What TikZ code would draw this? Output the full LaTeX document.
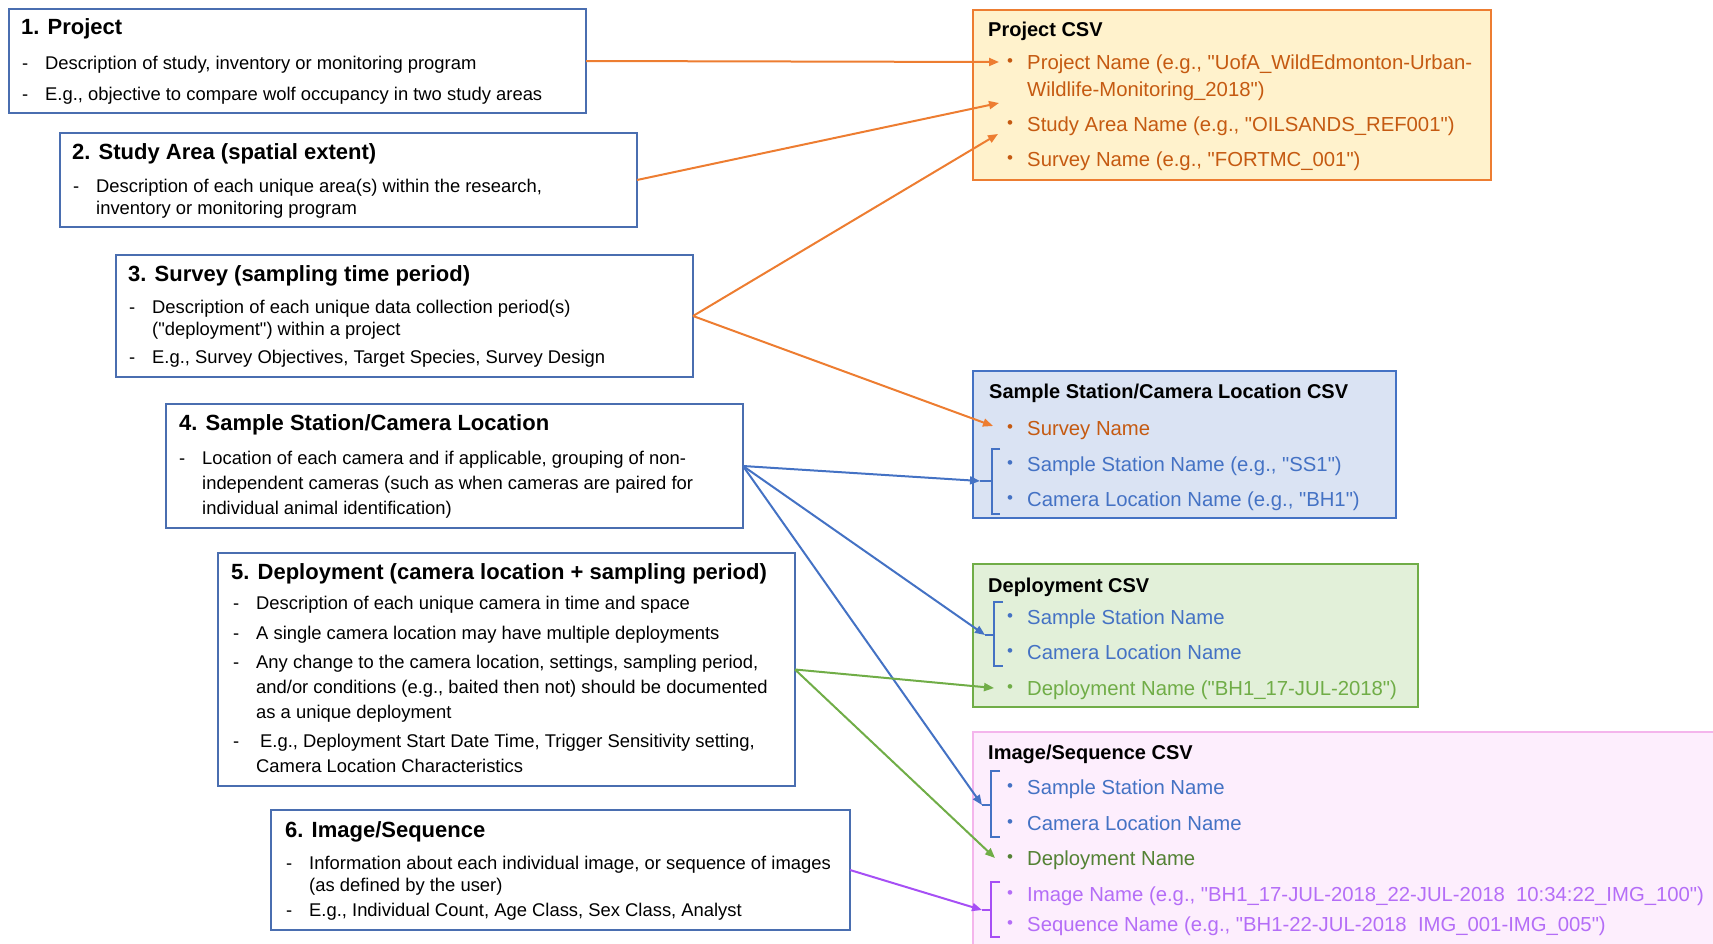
\documentclass[tikz,border=0pt]{standalone}
\usepackage{fontspec}
\setmainfont{Liberation Sans}[Ligatures=TeXOff]
\usetikzlibrary{arrows.meta}
\definecolor{lboxc}{HTML}{4A6EB0}
\definecolor{orangeL}{HTML}{ED7D31}
\definecolor{orangeT}{HTML}{C55A11}
\definecolor{orangeF}{HTML}{FFF2CC}
\definecolor{blueL}{HTML}{4472C4}
\definecolor{blueF}{HTML}{DAE3F3}
\definecolor{greenL}{HTML}{70AD47}
\definecolor{greenF}{HTML}{E2F0D9}
\definecolor{greenD}{HTML}{548235}
\definecolor{purpL}{HTML}{A64FF5}
\definecolor{purpT}{HTML}{B46DF7}
\definecolor{pinkF}{HTML}{FDEEFD}
\definecolor{pinkB}{HTML}{F4B5EC}
\tikzset{
  lbox/.style={draw=lboxc, line width=1.4pt, fill=white, anchor=north west, inner sep=0pt, outer sep=0pt},
  ltitle/.style={anchor=west, inner sep=0pt, font=\fontsize{22}{26}\selectfont\bfseries, text height=15.8pt, text depth=0pt},
  lbody/.style={anchor=west, inner sep=0pt, font=\fontsize{18.4}{22}\selectfont, text height=13.2pt, text depth=0pt},
  cbox/.style={anchor=north west, inner sep=0pt, outer sep=0pt, line width=2.6pt},
  ctitle/.style={anchor=west, inner sep=0pt, font=\fontsize{20}{24}\selectfont\bfseries, text height=14.3pt, text depth=0pt},
  citem/.style={anchor=west, inner sep=0pt, font=\fontsize{20.3}{24}\selectfont, text height=14.5pt, text depth=0pt},
  cbul/.style={inner sep=0pt, font=\fontsize{17}{20}\selectfont},
  conn/.style={line width=2pt, -{Triangle[length=10pt,width=8pt]}},
  brk/.style={line width=2pt},
}
\begin{document}
\begin{tikzpicture}[x=1pt,y=-1pt]
\useasboundingbox (0,0) rectangle (1713,943);
\clip (0,0) rectangle (1713,943);

% ---------------- left boxes ----------------
\node[lbox, minimum width=577pt, minimum height=104pt] (b1) at (9,9) {};
\node[ltitle] (b1t) at (21,27) {1. Project};
\node[lbody] (b1d1) at (22,63) {-};
\node[lbody] (b1a) at (45,63) {Description of study, inventory or monitoring program};
\node[lbody] (b1d2) at (22,94) {-};
\node[lbody] (b1b) at (45,94) {E.g., objective to compare wolf occupancy in two study areas};

\node[lbox, minimum width=577pt, minimum height=94pt] (b2) at (60,133) {};
\node[ltitle] (b2t) at (72,152) {2. Study Area (spatial extent)};
\node[lbody] (b2d1) at (73,186) {-};
\node[lbody] (b2a) at (96,186) {Description of each unique area(s) within the research,};
\node[lbody] (b2b) at (96,208) {inventory or monitoring program};

\node[lbox, minimum width=577pt, minimum height=122pt] (b3) at (116,255) {};
\node[ltitle] (b3t) at (128,274) {3. Survey (sampling time period)};
\node[lbody] (b3d1) at (129,307) {-};
\node[lbody] (b3a) at (152,307) {Description of each unique data collection period(s)};
\node[lbody] (b3b) at (152,329) {("deployment") within a project};
\node[lbody] (b3d2) at (129,357) {-};
\node[lbody] (b3c) at (152,357) {E.g., Survey Objectives, Target Species, Survey Design};

\node[lbox, minimum width=577pt, minimum height=124pt] (b4) at (166,404) {};
\node[ltitle] (b4t) at (179,423) {4. Sample Station/Camera Location};
\node[lbody] (b4d1) at (179,458) {-};
\node[lbody] (b4a) at (202,458) {Location of each camera and if applicable, grouping of non-};
\node[lbody] (b4b) at (202,483) {independent cameras (such as when cameras are paired for};
\node[lbody] (b4c) at (202,508) {individual animal identification)};

\node[lbox, minimum width=577pt, minimum height=233pt] (b5) at (218,553) {};
\node[ltitle] (b5t) at (231,572) {5. Deployment (camera location + sampling period)};
\node[lbody] (b5d1) at (233,603) {-};
\node[lbody] (b5a) at (256,603) {Description of each unique camera in time and space};
\node[lbody] (b5d2) at (233,633) {-};
\node[lbody] (b5b) at (256,633) {A single camera location may have multiple deployments};
\node[lbody] (b5d3) at (233,662) {-};
\node[lbody] (b5c) at (256,662) {Any change to the camera location, settings, sampling period,};
\node[lbody] (b5e) at (256,687) {and/or conditions (e.g., baited then not) should be documented};
\node[lbody] (b5f) at (256,712) {as a unique deployment};
\node[lbody] (b5d4) at (233,741) {-};
\node[lbody] (b5g) at (260,741) {E.g., Deployment Start Date Time, Trigger Sensitivity setting,};
\node[lbody] (b5h) at (256,766) {Camera Location Characteristics};

\node[lbox, minimum width=579pt, minimum height=120pt] (b6) at (271,810) {};
\node[ltitle] (b6t) at (285,830) {6. Image/Sequence};
\node[lbody] (b6d1) at (286,863) {-};
\node[lbody] (b6a) at (309,863) {Information about each individual image, or sequence of images};
\node[lbody] (b6b) at (309,885) {(as defined by the user)};
\node[lbody] (b6d2) at (286,910) {-};
\node[lbody] (b6c) at (309,910) {E.g., Individual Count, Age Class, Sex Class, Analyst};

% ---------------- right boxes ----------------
\node[cbox, draw=orangeL, fill=orangeF, minimum width=518pt, minimum height=170pt] (pcsv) at (973,10) {};
\node[ctitle] (pcsvt) at (988,29) {Project CSV};
\node[cbul, text=orangeT] (pb1) at (1010,63) {•};
\node[citem, text=orangeT] (pi1) at (1027,62) {Project Name (e.g., "UofA\_WildEdmonton-Urban-};
\node[citem, text=orangeT] (pi1b) at (1027,89) {Wildlife-Monitoring\_2018")};
\node[cbul, text=orangeT] (pb2) at (1010,125) {•};
\node[citem, text=orangeT] (pi2) at (1027,124) {Study Area Name (e.g., "OILSANDS\_REF001")};
\node[cbul, text=orangeT] (pb3) at (1010,160) {•};
\node[citem, text=orangeT] (pi3) at (1027,159) {Survey Name (e.g., "FORTMC\_001")};

\node[cbox, draw=blueL, fill=blueF, minimum width=423pt, minimum height=147pt] (scsv) at (973,371) {};
\node[ctitle] (scsvt) at (989,391) {Sample Station/Camera Location CSV};
\node[cbul, text=orangeT] (sb1) at (1010,429) {•};
\node[citem, text=orangeT] (si1) at (1027,428) {Survey Name};
\node[cbul, text=blueL] (sb2) at (1010,465) {•};
\node[citem, text=blueL] (si2) at (1027,464) {Sample Station Name (e.g., "SS1")};
\node[cbul, text=blueL] (sb3) at (1010,500) {•};
\node[citem, text=blueL] (si3) at (1027,499) {Camera Location Name (e.g., "BH1")};

\node[cbox, draw=greenL, fill=greenF, minimum width=445pt, minimum height=143pt] (dcsv) at (973,564) {};
\node[ctitle] (dcsvt) at (988,585) {Deployment CSV};
\node[cbul, text=blueL] (db1) at (1010,618) {•};
\node[citem, text=blueL] (di1) at (1027,617) {Sample Station Name};
\node[cbul, text=blueL] (db2) at (1010,653) {•};
\node[citem, text=blueL] (di2) at (1027,652) {Camera Location Name};
\node[cbul, text=greenL] (db3) at (1010,689) {•};
\node[citem, text=greenL] (di3) at (1027,688) {Deployment Name ("BH1\_17-JUL-2018")};

\node[cbox, line width=1.8pt, draw=pinkB, fill=pinkF, minimum width=800pt, minimum height=260pt] (icsv) at (973,732) {};
\node[ctitle] (icsvt) at (988,752) {Image/Sequence CSV};
\node[cbul, text=blueL] (ib1) at (1010,788) {•};
\node[citem, text=blueL] (ii1) at (1027,787) {Sample Station Name};
\node[cbul, text=blueL] (ib2) at (1010,824) {•};
\node[citem, text=blueL] (ii2) at (1027,823) {Camera Location Name};
\node[cbul, text=greenD] (ib3) at (1010,859) {•};
\node[citem, text=greenD] (ii3) at (1027,858) {Deployment Name};
\node[cbul, text=purpT] (ib4) at (1010,895) {•};
\node[citem, text=purpT] (ii4) at (1027,894) {Image Name (e.g., "BH1\_17-JUL-2018\_22-JUL-2018\ \ 10:34:22\_IMG\_100")};
\node[cbul, text=purpT] (ib5) at (1010,925) {•};
\node[citem, text=purpT] (ii5) at (1027,924) {Sequence Name (e.g., "BH1-22-JUL-2018\ \ IMG\_001-IMG\_005")};

% ---------------- bracket and arrow end points ----------------
\coordinate (pA) at (999,62);
\coordinate (pB) at (999,103);
\coordinate (pC) at (998,134);
\coordinate (sA) at (993,426);
\coordinate (sT) at (980,481);
\coordinate (dT) at (985,635);
\coordinate (dD) at (994,688);
\coordinate (iT) at (982,805);
\coordinate (iD) at (995,858);
\coordinate (iP) at (982,910);

\draw[brk, blueL] (1000,449) -- (992,449) -- (992,514) -- (1000,514);
\draw[brk, blueL] (sT) -- (992,481);
\draw[brk, blueL] (1003,602) -- (994,602) -- (994,666) -- (1003,666);
\draw[brk, blueL] (dT) -- (994,635);
\draw[brk, blueL] (1000,771) -- (991,771) -- (991,837) -- (1000,837);
\draw[brk, blueL] (iT) -- (991,805);
\draw[brk, purpL] (1000,882) -- (991,882) -- (991,937) -- (1000,937);
\draw[brk, purpL] (iP) -- (991,910);

% ---------------- connectors ----------------
\draw[conn, orangeL] (b1.east) -- (pA);
\draw[conn, orangeL] (b2.east) -- (pB);
\draw[conn, orangeL] (b3.east) -- (pC);
\draw[conn, orangeL] (b3.east) -- (sA);
\draw[conn, blueL] (b4.east) -- (sT);
\draw[conn, blueL] (b4.east) -- (dT);
\draw[conn, blueL] (b4.east) -- (iT);
\draw[conn, greenL] (b5.east) -- (dD);
\draw[conn, greenL] (b5.east) -- (iD);
\draw[conn, purpL] (b6.east) -- (iP);
\end{tikzpicture}
\end{document}
